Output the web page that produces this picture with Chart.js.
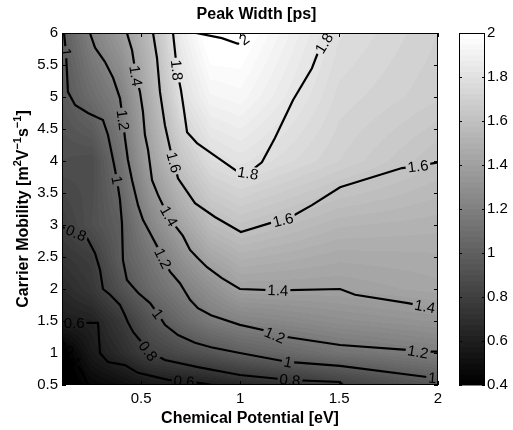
<!DOCTYPE html>
<html>
<head>
<meta charset="utf-8">
<script src="https://cdn.jsdelivr.net/npm/chart.js@4.4.0/dist/chart.umd.min.js"></script>
<style>
  html, body { margin: 0; padding: 0; background: #fff; }
</style>
</head>
<body>
<canvas id="peakChart" width="513" height="430"></canvas>
<script>
// ===== Data =====
const xGrid = [0.1, 0.25, 0.4, 0.55, 0.7, 0.85, 1, 1.5, 2];
const yGrid = [0.5, 1, 1.5, 2, 2.5, 3, 4, 5, 6];
// one row per yGrid value, one column per xGrid value
const zGrid = [
  [0.35, 0.45, 0.50, 0.56, 0.58, 0.60, 0.64, 0.79, 0.95],
  [0.38, 0.57, 0.68, 0.81, 0.87, 0.93, 1.00, 1.12, 1.19],
  [0.60, 0.62, 0.76, 0.93, 1.06, 1.17, 1.22, 1.29, 1.33],
  [0.67, 0.75, 0.91, 1.07, 1.19, 1.30, 1.40, 1.40, 1.44],
  [0.74, 0.79, 0.99, 1.14, 1.30, 1.44, 1.51, 1.46, 1.47],
  [0.80, 0.90, 1.00, 1.24, 1.42, 1.57, 1.62, 1.53, 1.51],
  [0.90, 0.88, 1.11, 1.41, 1.63, 1.77, 1.81, 1.70, 1.60],
  [0.95, 1.08, 1.21, 1.50, 1.79, 1.92, 1.94, 1.74, 1.68],
  [0.98, 1.21, 1.37, 1.58, 1.87, 2.03, 2.02, 1.78, 1.70]
];

const xTicks = [0.5, 1, 1.5, 2];
const yTicks = [0.5, 1, 1.5, 2, 2.5, 3, 3.5, 4, 4.5, 5, 5.5, 6];
const cbTicks = [0.4, 0.6, 0.8, 1, 1.2, 1.4, 1.6, 1.8, 2];
const cMin = 0.4, cMax = 2;

// contour lines, [x, y] pairs
const c04 = [[0.1, 1.2], [0.13, 1.05], [0.17, 0.86], [0.21, 0.66], [0.23, 0.5]];
const c06 = [[0.1, 1.47], [0.161, 1.47], [0.221, 1.47], [0.282, 1.47], [0.292, 1.0], [0.332, 0.86],
  [0.418, 0.81], [0.484, 0.69], [0.636, 0.58], [0.717, 0.56], [0.802, 0.53], [0.858, 0.5]];
const c08 = [[0.1, 2.97], [0.171, 2.875], [0.226, 2.8], [0.267, 2.56], [0.292, 2.3], [0.307, 2.0],
  [0.343, 1.91], [0.393, 1.75], [0.418, 1.59], [0.433, 1.48], [0.459, 1.33], [0.494, 1.2],
  [0.535, 1.03], [0.62, 0.89], [0.787, 0.78], [0.999, 0.656], [1.252, 0.578], [1.505, 0.547], [1.52, 0.5]];
const c10 = [[0.11, 6.0], [0.12, 5.7], [0.13, 5.08], [0.166, 4.875], [0.231, 4.75], [0.307, 4.64],
  [0.332, 4.41], [0.348, 4.17], [0.363, 3.94], [0.378, 3.7], [0.393, 3.39], [0.403, 3.03],
  [0.408, 2.45], [0.428, 2.14], [0.484, 1.94], [0.545, 1.78], [0.585, 1.61], [0.62, 1.44],
  [0.686, 1.28], [0.772, 1.16], [0.853, 1.09], [0.999, 1.0], [1.242, 0.86], [1.505, 0.8],
  [1.944, 0.625], [2.0, 0.61]];
const c12 = [[0.241, 6.0], [0.267, 5.77], [0.317, 5.55], [0.358, 5.3], [0.393, 4.98], [0.408, 4.64],
  [0.418, 4.36], [0.433, 4.02], [0.454, 3.7], [0.484, 3.31], [0.509, 3.08], [0.545, 2.875],
  [0.58, 2.67], [0.61, 2.48], [0.646, 2.27], [0.696, 2.09], [0.747, 1.83], [0.787, 1.7],
  [0.853, 1.59], [0.999, 1.44], [1.116, 1.36], [1.176, 1.28], [1.237, 1.25], [1.505, 1.125],
  [1.843, 1.05], [1.899, 1.02], [2.0, 1.02]];
const c14 = [[0.428, 6.0], [0.454, 5.73], [0.474, 5.33], [0.494, 5.08], [0.509, 4.77], [0.519, 4.41],
  [0.535, 4.17], [0.555, 3.7], [0.585, 3.47], [0.61, 3.31], [0.641, 3.14], [0.676, 2.97],
  [0.711, 2.83], [0.747, 2.61], [0.787, 2.48], [0.833, 2.34], [0.908, 2.17], [0.999, 2.0],
  [1.191, 1.98], [1.505, 2.0], [1.581, 1.91], [1.848, 1.78], [1.934, 1.73], [2.0, 1.73]];
const c16 = [[0.56, 6.0], [0.58, 5.61], [0.595, 5.08], [0.62, 4.56], [0.646, 4.2], [0.666, 3.98],
  [0.686, 3.73], [0.732, 3.52], [0.772, 3.34], [0.873, 3.125], [1.004, 2.89], [1.151, 3.03],
  [1.217, 3.08], [1.277, 3.16], [1.363, 3.31], [1.505, 3.59], [1.818, 3.89], [1.899, 3.92], [2.0, 3.98]];
const c18 = [[0.661, 6.0], [0.681, 5.42], [0.701, 5.11], [0.716, 4.8], [0.732, 4.45], [0.782, 4.28],
  [0.888, 4.05], [0.984, 3.84], [1.04, 3.81], [1.11, 3.98], [1.176, 4.36], [1.267, 4.95],
  [1.363, 5.45], [1.389, 5.66], [1.424, 5.84], [1.444, 6.0]];
const c20 = [[0.777, 6.0], [0.908, 5.92], [0.989, 5.83], [1.02, 5.9], [1.035, 6.0]];

const contours = [c04, c06, c08, c10, c12, c14, c16, c18, c20];
const levels = [0.4, 0.6, 0.8, 1, 1.2, 1.4, 1.6, 1.8, 2];

// contour labels: [level, x, y]
const contourLabels = [
  [0.4, 0.15, 0.96],
  [0.6, 0.161, 1.47], [0.6, 0.717, 0.56],
  [0.8, 0.171, 2.875], [0.8, 0.535, 1.03], [0.8, 1.252, 0.578],
  [1, 0.12, 5.7], [1, 0.378, 3.7], [1, 0.585, 1.61], [1, 1.242, 0.86], [1, 1.972, 0.615],
  [1.2, 0.408, 4.64], [1.2, 0.61, 2.48], [1.2, 1.176, 1.28], [1.2, 1.899, 1.02],
  [1.4, 0.474, 5.33], [1.4, 0.641, 3.14], [1.4, 1.191, 1.98], [1.4, 1.934, 1.73],
  [1.6, 0.666, 3.98], [1.6, 1.217, 3.08], [1.6, 1.899, 3.92],
  [1.8, 0.681, 5.42], [1.8, 1.04, 3.81], [1.8, 1.424, 5.84],
  [2, 1.02, 5.9]
];

// ===== Helpers =====
const FONT = "'Liberation Sans', Arial, Helvetica, sans-serif";

function zAt(x, y) {
  let i = 0;
  while (i < xGrid.length - 2 && x > xGrid[i + 1]) i++;
  let j = 0;
  while (j < yGrid.length - 2 && y > yGrid[j + 1]) j++;
  const tx = Math.min(1, Math.max(0, (x - xGrid[i]) / (xGrid[i + 1] - xGrid[i])));
  const ty = Math.min(1, Math.max(0, (y - yGrid[j]) / (yGrid[j + 1] - yGrid[j])));
  return zGrid[j][i] * (1 - tx) * (1 - ty) + zGrid[j][i + 1] * tx * (1 - ty) +
         zGrid[j + 1][i] * (1 - tx) * ty + zGrid[j + 1][i + 1] * tx * ty;
}

// matlab gray(64)
function grayOf(z) {
  let k = Math.floor((z - cMin) / (cMax - cMin) * 64);
  k = Math.max(0, Math.min(63, k));
  return Math.round(k / 63 * 255);
}

let heat = null;

const heatPlugin = {
  id: 'heat',
  beforeDatasetsDraw(chart) {
    const { ctx, chartArea: a, scales: { x, y, cb } } = chart;
    const w = Math.round(a.right - a.left), h = Math.round(a.bottom - a.top);
    if (!heat || heat.width !== w || heat.height !== h) {
      heat = document.createElement('canvas');
      heat.width = w; heat.height = h;
      const hc = heat.getContext('2d');
      const img = hc.createImageData(w, h);
      for (let py = 0; py < h; py++) {
        const yv = y.getValueForPixel(a.top + py + 0.5);
        for (let px = 0; px < w; px++) {
          const g = grayOf(zAt(x.getValueForPixel(a.left + px + 0.5), yv));
          const o = (py * w + px) * 4;
          img.data[o] = img.data[o + 1] = img.data[o + 2] = g;
          img.data[o + 3] = 255;
        }
      }
      hc.putImageData(img, 0, 0);
    }
    ctx.drawImage(heat, a.left, a.top);

    // colorbar
    const bl = cb.left + 21, br = cb.left + 47;
    for (let k = 0; k < 64; k++) {
      const y0 = cb.getPixelForValue(cMin + k * (cMax - cMin) / 64);
      const y1 = cb.getPixelForValue(cMin + (k + 1) * (cMax - cMin) / 64);
      const g = Math.round(k / 63 * 255);
      ctx.fillStyle = `rgb(${g},${g},${g})`;
      ctx.fillRect(bl, y1, br - bl, y0 - y1 + 0.5);
    }
  },
  afterDatasetsDraw(chart) {
    const { ctx, chartArea: a, scales: { x, y, cb } } = chart;

    // contour labels with a gap in the line
    ctx.save();
    ctx.font = `15px ${FONT}`;
    ctx.textAlign = 'center';
    ctx.textBaseline = 'middle';
    contourLabels.forEach(([lev, lx, ly]) => {
      const pts = contours[levels.indexOf(lev)].map(p => [x.getPixelForValue(p[0]), y.getPixelForValue(p[1])]);
      const px = x.getPixelForValue(lx), py = y.getPixelForValue(ly);
      let best = Infinity, ang = 0;
      for (let i = 0; i < pts.length - 1; i++) {
        const [x0, y0] = pts[i], [x1, y1] = pts[i + 1];
        const dx = x1 - x0, dy = y1 - y0;
        const t = Math.max(0, Math.min(1, ((px - x0) * dx + (py - y0) * dy) / (dx * dx + dy * dy || 1)));
        const d = Math.hypot(x0 + t * dx - px, y0 + t * dy - py);
        if (d < best) { best = d; ang = Math.atan2(dy, dx); }
      }
      if (ang > Math.PI / 2) ang -= Math.PI;
      if (ang < -Math.PI / 2) ang += Math.PI;
      const txt = String(lev);
      const tw = ctx.measureText(txt).width;
      ctx.save();
      ctx.beginPath();
      ctx.rect(a.left, a.top, a.right - a.left, a.bottom - a.top);
      ctx.clip();
      ctx.translate(px, py);
      ctx.rotate(ang);
      ctx.beginPath();
      ctx.rect(-tw / 2 - 2, -7, tw + 4, 14);
      ctx.clip();
      ctx.rotate(-ang);
      ctx.translate(-px, -py);
      ctx.drawImage(heat, a.left, a.top);
      ctx.translate(px, py);
      ctx.rotate(ang);
      ctx.fillStyle = '#000';
      ctx.fillText(txt, 0, 1);
      ctx.restore();
    });
    ctx.restore();

    // axes box and inside ticks
    ctx.save();
    ctx.strokeStyle = '#000';
    ctx.lineWidth = 1;
    ctx.strokeRect(a.left + 0.5, a.top + 0.5, a.right - a.left - 1, a.bottom - a.top - 1);
    ctx.beginPath();
    xTicks.forEach(v => {
      const p = Math.round(x.getPixelForValue(v)) + 0.5;
      ctx.moveTo(p, a.bottom); ctx.lineTo(p, a.bottom - 4);
      ctx.moveTo(p, a.top); ctx.lineTo(p, a.top + 4);
    });
    yTicks.forEach(v => {
      const p = Math.round(y.getPixelForValue(v)) + 0.5;
      ctx.moveTo(a.left, p); ctx.lineTo(a.left + 4, p);
      ctx.moveTo(a.right, p); ctx.lineTo(a.right - 4, p);
    });
    // colorbar box and ticks
    const bl = cb.left + 21, br = cb.left + 47;
    ctx.strokeRect(bl + 0.5, a.top + 0.5, br - bl - 1, a.bottom - a.top - 1);
    cbTicks.forEach(v => {
      const p = Math.round(cb.getPixelForValue(v)) + 0.5;
      ctx.moveTo(bl, p); ctx.lineTo(bl + 3, p);
      ctx.moveTo(br, p); ctx.lineTo(br - 3, p);
    });
    ctx.stroke();

    // y axis title with superscripts
    const parts = [['Carrier Mobility [m', 0], ['2', 1], ['V', 0], ['\u22121', 1], ['s', 0], ['\u22121', 1], [']', 0]];
    const big = `bold 16px ${FONT}`, small = `bold 11px ${FONT}`;
    let total = 0;
    parts.forEach(([t, sup]) => { ctx.font = sup ? small : big; total += ctx.measureText(t).width; });
    ctx.translate(28, (a.top + a.bottom) / 2);
    ctx.rotate(-Math.PI / 2);
    ctx.fillStyle = '#000';
    ctx.textAlign = 'left';
    ctx.textBaseline = 'alphabetic';
    let cx = -total / 2;
    parts.forEach(([t, sup]) => {
      ctx.font = sup ? small : big;
      ctx.fillText(t, cx, sup ? -7 : 0);
      cx += ctx.measureText(t).width;
    });
    ctx.restore();
  }
};

Chart.defaults.color = '#000';
Chart.defaults.font.family = FONT;

// vertical scales: keep label overhang from pushing the plot area in
const noPad = s => { s.paddingTop = 0; s.paddingBottom = 0; };

new Chart(document.getElementById('peakChart'), {
  type: 'scatter',
  data: {
    datasets: contours.map((c, i) => ({
      label: String(levels[i]),
      data: c.map(p => ({ x: p[0], y: p[1] })),
      showLine: true,
      borderColor: '#000',
      borderWidth: 2.2,
      pointRadius: 0,
      fill: false,
      tension: 0
    }))
  },
  options: {
    responsive: false,
    animation: false,
    layout: { padding: 0 },
    plugins: {
      legend: { display: false },
      tooltip: { enabled: false },
      title: {
        display: true,
        text: 'Peak Width [ps]',
        font: { size: 16, weight: 'bold' },
        padding: { top: 5, bottom: 8.8 }
      }
    },
    scales: {
      x: {
        type: 'linear',
        position: 'bottom',
        min: 0.1,
        max: 2,
        afterBuildTicks: s => { s.ticks = xTicks.map(v => ({ value: v })); },
        afterFit: s => { s.height = 45; s.paddingLeft = 0; s.paddingRight = 0; },
        ticks: { font: { size: 15 }, padding: 5, maxRotation: 0, autoSkip: false, callback: v => String(v) },
        grid: { display: false, drawTicks: false },
        border: { display: false },
        title: { display: true, text: 'Chemical Potential [eV]', font: { size: 16, weight: 'bold' }, padding: { top: 0, bottom: 1.5 } }
      },
      y: {
        type: 'linear',
        position: 'left',
        min: 0.5,
        max: 6,
        afterBuildTicks: s => { s.ticks = yTicks.map(v => ({ value: v })); },
        afterFit: s => { s.width = 62; noPad(s); },
        ticks: { font: { size: 15 }, padding: 4, autoSkip: false, callback: v => String(v) },
        grid: { display: false, drawTicks: false },
        border: { display: false }
      },
      cb: {
        type: 'linear',
        position: 'right',
        min: cMin,
        max: cMax,
        afterBuildTicks: s => { s.ticks = cbTicks.map(v => ({ value: v })); },
        afterFit: s => { s.width = 75; noPad(s); },
        ticks: { font: { size: 15 }, padding: 49, autoSkip: false, callback: v => String(v) },
        grid: { display: false, drawTicks: false },
        border: { display: false }
      }
    }
  },
  plugins: [heatPlugin]
});
</script>
</body>
</html>
